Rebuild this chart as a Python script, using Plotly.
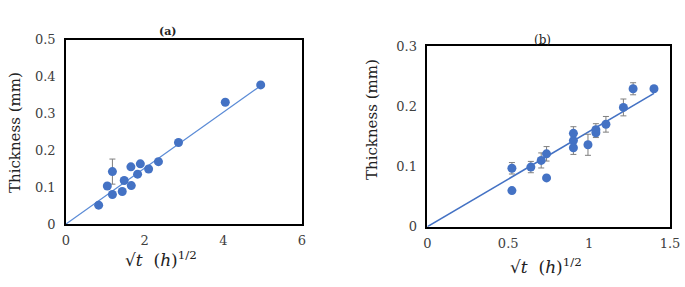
import plotly.graph_objects as go

# Panel (a)
a_x = [0.83, 1.05, 1.18, 1.18, 1.43, 1.48, 1.65, 1.66, 1.82, 1.89, 2.10, 2.35, 2.86, 4.05, 4.95]
a_y = [0.051, 0.103, 0.142, 0.080, 0.088, 0.118, 0.155, 0.104, 0.135, 0.163, 0.149, 0.169, 0.221, 0.330, 0.377]
a_err = [0, 0, 0.034, 0, 0, 0, 0, 0, 0, 0, 0, 0, 0, 0, 0]
a_slope = 0.0757

# Panel (b)
b_x = [0.523, 0.523, 0.640, 0.704, 0.737, 0.737, 0.903, 0.903, 0.903, 0.993, 1.042, 1.042, 1.104, 1.212, 1.272, 1.401]
b_y = [0.097, 0.060, 0.099, 0.110, 0.121, 0.081, 0.155, 0.143, 0.131, 0.136, 0.156, 0.161, 0.170, 0.198, 0.229, 0.229]
b_err = [0.0095, 0, 0.0094, 0.0125, 0.012, 0, 0.011, 0, 0.011, 0.0175, 0.008, 0.010, 0.013, 0.014, 0.010, 0]
b_slope = 0.158

a_xticks = [0, 2, 4, 6]
a_yticks = [0, 0.1, 0.2, 0.3, 0.4, 0.5]
b_xticks = [0, 0.5, 1, 1.5]
b_yticks = [0, 0.1, 0.2, 0.3]

W, H = 685, 287
MARK = "#4472C4"
SERIF = "DejaVu Serif"

fig = go.Figure()

# trend lines
fig.add_trace(go.Scatter(x=[0, max(a_x)], y=[0, a_slope * max(a_x)], mode="lines",
                         line=dict(color="#5B8BD6", width=1.2), xaxis="x", yaxis="y",
                         hoverinfo="skip", showlegend=False))
fig.add_trace(go.Scatter(x=[0, max(b_x)], y=[0, b_slope * max(b_x)], mode="lines",
                         line=dict(color=MARK, width=1.6), xaxis="x2", yaxis="y2",
                         hoverinfo="skip", showlegend=False))

fig.add_trace(go.Scatter(x=a_x, y=a_y, mode="markers",
                         marker=dict(color=MARK, size=9),
                         error_y=dict(type="data", array=a_err, color="#7f7f7f", thickness=1, width=3),
                         xaxis="x", yaxis="y", showlegend=False))
fig.add_trace(go.Scatter(x=b_x, y=b_y, mode="markers",
                         marker=dict(color=MARK, size=9),
                         error_y=dict(type="data", array=b_err, color="#7f7f7f", thickness=1, width=3),
                         xaxis="x2", yaxis="y2", showlegend=False))

def px_x(p):
    return p / W

def px_y(p):
    return 1 - p / H

axis_common = dict(showgrid=False, zeroline=False, showline=True, linecolor="black",
                   linewidth=1.5, mirror=True, ticks="", autorange=False,
                   automargin=False,
                   tickfont=dict(family=SERIF, size=13, color="#404040"))

fig.update_layout(
    width=W, height=H, margin=dict(l=0, r=0, t=0, b=0),
    font=dict(family=SERIF, size=13, color="#404040"),
    paper_bgcolor="white", plot_bgcolor="white", showlegend=False,
    xaxis=dict(domain=[px_x(66), px_x(302)], range=[0, 6], tickvals=a_xticks,
               anchor="y", ticklabelstandoff=4, **axis_common),
    yaxis=dict(domain=[px_y(224), px_y(39.5)], range=[0, 0.5], tickvals=a_yticks,
               anchor="x", ticklabelstandoff=6, **axis_common),
    xaxis2=dict(domain=[px_x(427.3), px_x(670)], range=[0, 1.5], tickvals=b_xticks,
                anchor="y2", ticklabelstandoff=4, **axis_common),
    yaxis2=dict(domain=[px_y(226.7), px_y(46)], range=[0, 0.3], tickvals=b_yticks,
                anchor="x2", ticklabelstandoff=6, **axis_common),
)

xtitle = "√<i>t</i>  (<i>h</i>)<sup>1/2</sup>"
ann = [
    dict(text="<b>(a)</b>", x=px_x(168), y=px_y(31), font=dict(size=11)),
    dict(text="(b)", x=px_x(542), y=px_y(40), font=dict(size=12)),
    dict(text="Thickness (mm)", x=px_x(15), y=px_y(133), textangle=-90, font=dict(size=15)),
    dict(text="Thickness (mm)", x=px_x(372), y=px_y(120), textangle=-90, font=dict(size=15)),
    dict(text=xtitle, x=px_x(161), y=px_y(259), font=dict(size=17)),
    dict(text=xtitle, x=px_x(546), y=px_y(266), font=dict(size=17)),
]
for a in ann:
    a.update(xref="paper", yref="paper", showarrow=False, xanchor="center", yanchor="middle")
    a["font"] = dict(family=SERIF, color="#222222", **a["font"])
    fig.add_annotation(**a)

fig.write_html("out.html", config={"displayModeBar": False},
               post_script="document.body.style.margin='0';document.body.style.overflow='hidden';")
